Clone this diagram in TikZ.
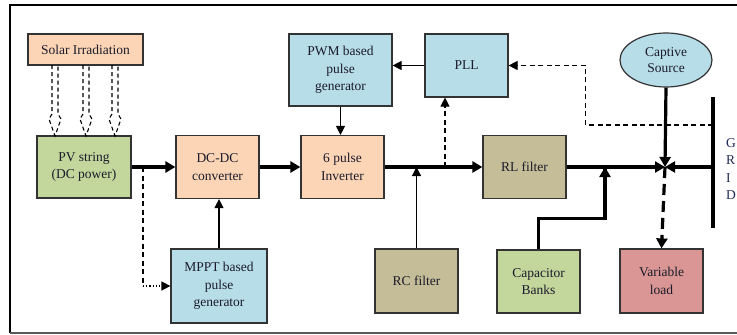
\documentclass[tikz,border=0pt]{standalone}
\usepackage{fontspec}
\setmainfont{Liberation Serif}
\usetikzlibrary{arrows.meta,shapes.geometric,calc}

\definecolor{peach}{HTML}{FBD5B5}
\definecolor{leaf}{HTML}{C3D69B}
\definecolor{sky}{HTML}{B7DDE8}
\definecolor{khaki}{HTML}{C4BD97}
\definecolor{rose}{HTML}{D99694}
\definecolor{ink}{HTML}{1B1B2B}
\definecolor{navy}{HTML}{1F2A55}

\begin{document}
\begin{tikzpicture}[x=1pt,y=-1pt,
  blk/.style={draw=black!80, line width=1.2pt, align=center, inner sep=0pt,
    text=ink, font=\fontsize{13.5}{17.5}\selectfont},
  bus/.style={line width=3.2pt, -{Triangle[length=10pt,width=11pt]}},
  busline/.style={line width=3.2pt},
  sig/.style={line width=1.2pt, -{Triangle[length=9pt,width=9pt]}},
  sense/.style={line width=1.2pt, dash pattern=on 5pt off 3.5pt},
  irr/.style={line width=1.1pt, dash pattern=on 4pt off 3pt, line join=miter}]

  \useasboundingbox (0,0) rectangle (737,335);

  % outer frame (open to the right)
  \draw[line width=1.8pt, black] (737,5) -- (10,5) -- (10,333);
  \draw[line width=1.4pt, black!65] (10,333) -- (737,333);

  % blocks
  \node[blk, fill=peach, minimum width=115pt, minimum height=31pt] (solar) at (85.5,49.5) {Solar Irradiation};
  \node[blk, fill=leaf,  minimum width=94pt,  minimum height=62pt] (pv)    at (84,167)    {PV string\\(DC power)};
  \node[blk, fill=peach, minimum width=83pt,  minimum height=63pt] (dcdc)  at (217.5,167) {DC-DC\\converter};
  \node[blk, fill=peach, minimum width=83pt,  minimum height=63pt] (inv)   at (342.5,167) {6 pulse\\Inverter};
  \node[blk, fill=sky,   minimum width=103pt, minimum height=72pt] (pwm)   at (340.5,70)  {PWM based\\pulse\\generator};
  \node[blk, fill=sky,   minimum width=83pt,  minimum height=63pt] (pll)   at (466.5,65.5) {PLL};
  \node[blk, fill=khaki, minimum width=83pt,  minimum height=63pt] (rl)    at (524.5,167) {RL filter};
  \node[blk, fill=khaki, minimum width=83pt,  minimum height=64pt] (rc)    at (416.5,281) {RC filter};
  \node[blk, fill=leaf,  minimum width=83pt,  minimum height=63pt] (cap)   at (538.5,281.5) {Capacitor\\Banks};
  \node[blk, fill=rose,  minimum width=83pt,  minimum height=64pt] (load)  at (661.5,281) {Variable\\load};
  \node[blk, fill=sky,   minimum width=96pt,  minimum height=74pt] (mppt)  at (219,286)   {MPPT based\\pulse\\generator};
  \node[blk, fill=sky, ellipse, minimum width=92pt, minimum height=54pt,
        font=\fontsize{13.5}{15.5}\selectfont] (captive) at (666,60) {Captive\\Source};

  % grid bus bar and its label
  \coordinate (gtop) at (713,97);
  \coordinate (gbot) at (713,228);
  \coordinate (gfeed) at (713,167);
  \coordinate (gsense) at (713,125);
  \draw[line width=3.4pt] (gtop) -- (gbot);
  \node[anchor=west, align=left, inner sep=0pt, text=navy,
        font=\fontsize{13.5}{17.3}\selectfont] (gridlbl) at (726,169) {G\\R\\I\\D};

  % tap points on the AC bus
  \coordinate (J) at (665,167);
  \coordinate (captap) at (605,167);
  \coordinate (plltap) at (445,167);
  \coordinate (pvtap) at (143,167);

  % power path
  \draw[bus] (pv.east) -- (dcdc.west);
  \draw[bus] (dcdc.east) -- (inv.west);
  \draw[bus] (inv.east) -- (rl.west);
  \draw[bus] (rl.east) -- (J);
  \draw[bus] (gfeed) -- (J);
  \draw[bus] (captive.south) -- (J);
  \draw[bus, dash pattern=on 11pt off 6pt] (J) -- (load.north);
  \draw[busline] (cap.north) -- ++(0,-31) -| (captap);
  \draw[line width=3.2pt, -{Triangle[length=10pt,width=11pt]}] ($(captap)+(0,4)$) -- (captap);

  % control signals
  \draw[sig] (mppt.north) -- (mppt.north |- dcdc.south);
  \draw[sig] (pwm.south) -- (pwm.south |- inv.north);
  \draw[sig] (pll.west) -- (pll.west -| pwm.east);
  \draw[sig] (rc.north) -- (rc.north |- plltap);

  % sensing paths
  \draw[sense, -{Triangle[length=9pt,width=9pt]}] (plltap) -- (plltap |- pll.south);
  \draw[sense, -{Triangle[length=9pt,width=9pt]}] (gsense) -| ($(pll.east)+(77,0)$) -- (pll.east);
  \draw[sense] (pvtap) -- (pvtap |- mppt.west);
  \draw[line width=1.2pt, dotted, -{Triangle[length=9pt,width=9pt]}] (pvtap |- mppt.west) -- (mppt.west);

  % irradiation arrows (hollow, dashed)
  \foreach \x in {55,86,115}
    \draw[irr] (\x-3,65) -- (\x-3,114) -- (\x-6,119) -- (\x,136)
               -- (\x+6,119) -- (\x+3,114) -- (\x+3,65);
\end{tikzpicture}
\end{document}
